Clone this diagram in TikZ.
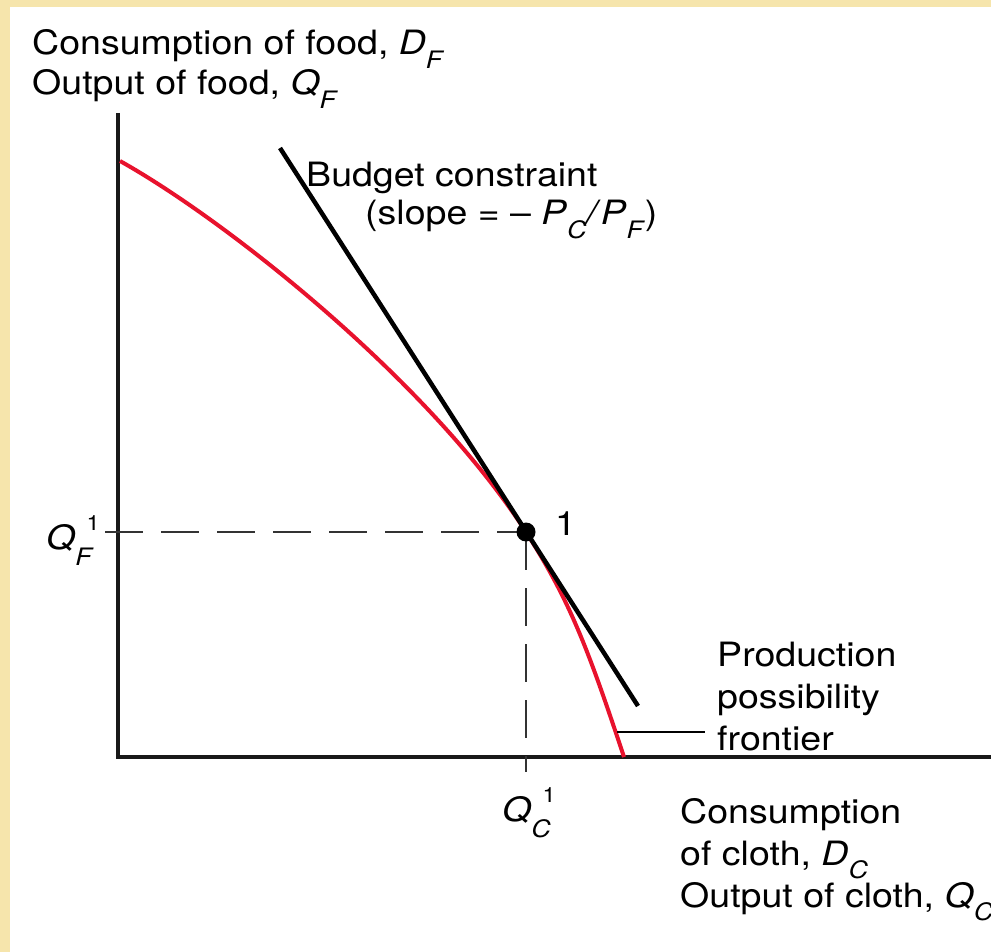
\documentclass[tikz,border=0pt]{standalone}
\usepackage{fontspec}
\setmainfont{TeX Gyre Heros}
\usepackage{tikz}
\usetikzlibrary{arrows.meta,calc}
\definecolor{ppfred}{RGB}{232,18,45}
\definecolor{slidebg}{RGB}{246,229,172}
\newcommand{\lblsize}{\fontsize{33.5}{42}\selectfont}
\newcommand{\lowsub}[1]{\raisebox{-0.4em}{\fontsize{24}{24}\selectfont\textit{#1}}}
\newcommand{\subvar}[2]{\textit{#1}\lowsub{#2}}
\newcommand{\subvarone}[2]{\textit{#1}\rlap{\raisebox{0.55em}{\kern0.3em\fontsize{21}{21}\selectfont 1}}\raisebox{-0.48em}{\fontsize{24}{24}\selectfont\textit{#2}}}

\begin{document}
\begin{tikzpicture}[x=1pt, y=-1pt, >=Stealth,
  lbl/.style={inner sep=0pt, font=\lblsize, align=left, xscale=1.12, transform shape},
  axis/.style={line width=4pt, black!90, line join=miter},
  guide/.style={line width=2.5pt, black!80, dash pattern=on 38pt off 18pt},
  dot/.style={circle, fill=black, inner sep=0pt, minimum size=19pt}]

% ---- Slide background ----
\useasboundingbox (0,0) rectangle (991,952);
\fill[slidebg] (0,0) rectangle (991,952);
\fill[white] (10,7) rectangle (991,952);

% ---- Axes ----
\coordinate (O)    at (118,757);
\coordinate (ytop) at (118,113);
\coordinate (xend) at (991,757);
\draw[axis] (ytop) -- (O) -- (xend);

% ---- Production possibility frontier ----
\coordinate (ppftop) at (120,161);
\coordinate (ppfbot) at (624,757);
\coordinate (pt1pos) at (526,532);
\draw[ppfred, line width=4pt]
  (ppftop) .. controls (230,222.6) and (431,383.8) .. (pt1pos)
           .. controls (571,602.2) and (589,652) .. (ppfbot);

% ---- Budget constraint, tangent at point 1 ----
\coordinate (bctop) at (280,148);
\coordinate (bcend) at (638,706);
\draw[line width=4.5pt, black] (bctop) -- (bcend);

% Guides to the axes
\coordinate (qftick) at (105,532);
\coordinate (qctick) at (526,772);
\draw[guide] (qftick) -- (pt1pos);
\draw[guide] (pt1pos) -- (qctick);
\node[dot] (pt1) at (pt1pos) {};

% Leader to the frontier label
\coordinate (ppfpt) at (617,732);
\draw[line width=2pt, black] (ppfpt) -- ++(88,0) coordinate (ppftip);

% ---- Labels ----
\node[lbl, anchor=base west, font=\fontsize{33.5}{40}\selectfont] (ylab) at (32,95)
  {Consumption of food, \subvar{D}{F}\\ Output of food, \subvar{Q}{F}};
\node[lbl, anchor=base west] (budget) at (306,187) {Budget constraint};
\node[lbl, anchor=base west] (slope) at (365,225)
  {(slope = \textendash\ \subvar{P}{C}\textit{/}\subvar{P}{F})};
\node[lbl, anchor=base west] (one) at (555,535) {1};
\node[lbl, anchor=base east] (qf1) at (94,549) {\subvarone{Q}{F}};
\node[lbl, anchor=base west] (qc1) at (502,821) {\subvarone{Q}{C}};
\node[lbl, anchor=base west] (ppf) at (717,750)
  {Production\\ possibility\\ frontier};
\node[lbl, anchor=base west] (xlab) at (680,907)
  {Consumption\\ of cloth, \subvar{D}{C}\\ Output of cloth, \subvar{Q}{C}};

\end{tikzpicture}
\end{document}
